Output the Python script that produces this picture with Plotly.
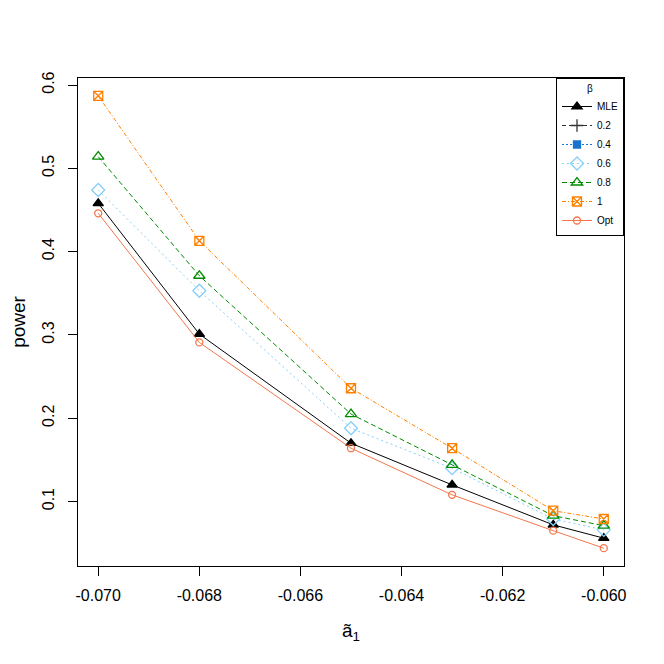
import plotly.graph_objects as go

# --- Data ---
a1 = [-0.070, -0.068, -0.065, -0.063, -0.061, -0.060]

power_mle = [0.458, 0.301, 0.170, 0.120, 0.072, 0.056]
power_02 = [None, None, None, None, None, None]
power_04 = [None, None, None, None, None, None]
power_06 = [0.474, 0.353, 0.188, 0.140, 0.079, 0.066]
power_08 = [0.514, 0.371, 0.205, 0.144, 0.083, 0.071]
power_1 = [0.587, 0.413, 0.236, 0.164, 0.089, 0.079]
power_opt = [0.446, 0.291, 0.164, 0.108, 0.065, 0.044]

x_ticks = [-0.070, -0.068, -0.066, -0.064, -0.062, -0.060]
x_tick_labels = ["-0.070", "-0.068", "-0.066", "-0.064", "-0.062", "-0.060"]
y_ticks = [0.1, 0.2, 0.3, 0.4, 0.5, 0.6]
y_tick_labels = ["0.1", "0.2", "0.3", "0.4", "0.5", "0.6"]

series = [
    ("MLE", power_mle, "black", "solid", "triangle-up", 9),
    ("0.2", power_02, "#333333", "4px,3px", "cross-thin-open", 9),
    ("0.4", power_04, "#1874CD", "2px,2px", "square", 7),
    ("0.6", power_06, "#87CEFA", "2px,3px", "diamond-open", 10),
    ("0.8", power_08, "#008B00", "5px,3px", "triangle-up-open", 10),
    ("1", power_1, "#FF8000", "4px,2px,1px,2px", "square-x-open", 9),
    ("Opt", power_opt, "#F4774B", "solid", "circle-open", 7),
]

fig = go.Figure()

for name, values, color, dash, symbol, size in series:
    fig.add_trace(
        go.Scatter(
            x=a1,
            y=values,
            mode="lines+markers",
            name=name,
            line=dict(color=color, width=1, dash=dash),
            marker=dict(
                symbol=symbol,
                size=size,
                color=color,
                line=dict(color=color, width=1.3),
            ),
        )
    )

axis_font = dict(family="Liberation Sans, Arial, sans-serif", size=16, color="black")

# the page body adds 8px, so the figure is a bit smaller than the window
fig.update_layout(
    width=648,
    height=648,
    margin=dict(l=70, r=32, t=70, b=90, autoexpand=False),
    paper_bgcolor="white",
    plot_bgcolor="white",
    font=axis_font,
    showlegend=True,
    legend=dict(
        x=1,
        y=1,
        xanchor="right",
        yanchor="top",
        bgcolor="white",
        bordercolor="black",
        borderwidth=1,
        font=dict(family="Liberation Sans, Arial, sans-serif", size=10, color="black"),
        title=dict(text="β", side="top center", font=dict(size=10)),
        itemwidth=30,
        tracegroupgap=0,
    ),
    xaxis=dict(
        range=[-0.0704, -0.0596],
        tickvals=x_ticks,
        ticktext=x_tick_labels,
        ticks="outside",
        ticklen=9,
        ticklabelstandoff=6,
        tickcolor="black",
        showline=True,
        mirror=True,
        linecolor="black",
        linewidth=1,
        showgrid=False,
        zeroline=False,
        automargin=False,
        title=dict(text="ã<sub>1</sub>", standoff=20),
    ),
    yaxis=dict(
        range=[0.0226, 0.6084],
        tickvals=y_ticks,
        ticktext=y_tick_labels,
        tickangle=-90,
        ticks="outside",
        ticklen=9,
        ticklabelstandoff=8,
        tickcolor="black",
        showline=True,
        mirror=True,
        linecolor="black",
        linewidth=1,
        showgrid=False,
        zeroline=False,
        automargin=False,
        title=dict(text="power", standoff=22),
    ),
)

fig.write_html("out.html")
